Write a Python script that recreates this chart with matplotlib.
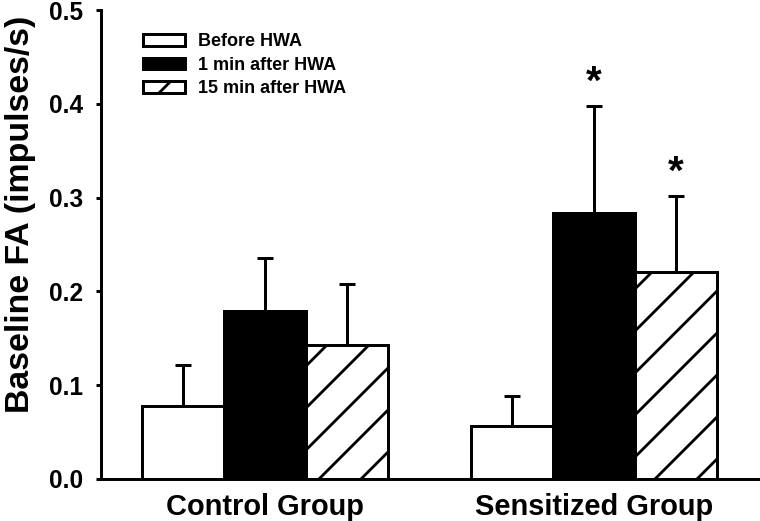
import matplotlib
matplotlib.use("Agg")
import matplotlib.pyplot as plt
import numpy as np

# ---- data ----
groups = ["Control Group", "Sensitized Group"]
series = ["Before HWA", "1 min after HWA", "15 min after HWA"]
before = [0.078, 0.057]
after_1min = [0.179, 0.284]
after_15min = [0.143, 0.221]
err_before = [0.044, 0.031]
err_1min = [0.057, 0.114]
err_15min = [0.065, 0.081]
stars_before = ["", ""]
stars_1min = ["", "*"]
stars_15min = ["", "*"]
yticks = [0.0, 0.1, 0.2, 0.3, 0.4, 0.5]

DPI = 126
plt.rcParams["font.family"] = ["Liberation Sans", "DejaVu Sans"]
plt.rcParams["font.weight"] = "bold"
plt.rcParams["hatch.linewidth"] = 1.6

fig = plt.figure(figsize=(760 / DPI, 521 / DPI), dpi=DPI)
ax = fig.add_axes([101 / 760, 42 / 521, 657 / 760, 469 / 521])

means = [before, after_1min, after_15min]
errs = [err_before, err_1min, err_15min]
stars = [stars_before, stars_1min, stars_15min]
faces = ["white", "black", "white"]
hatches = [None, None, "/"]
group_centers = np.array([1.0, 5.0])
width = 1.0
lw = 1.7

for i, (m, e, s) in enumerate(zip(means, errs, stars)):
    x = group_centers + (i - 1) * width
    ax.errorbar(x, m, yerr=[np.zeros(len(e)), e], fmt="none", ecolor="black",
                elinewidth=lw, capsize=4.3, capthick=lw, zorder=2)
    ax.bar(x, m, width=width, color=faces[i], edgecolor="black", linewidth=lw,
           hatch=hatches[i], label=series[i], zorder=3)
    for xi, mi, ei, si in zip(x, m, e, s):
        if si:
            ax.text(xi, mi + ei + 0.024, si, ha="center", va="center",
                    fontsize=23, fontweight="bold")

ax.set_xlim(-1, 7)
ax.set_ylim(0, 0.5)
ax.set_yticks(yticks)
ax.set_yticklabels([f"{t:.1f}" for t in yticks])
ax.set_xticks(group_centers)
ax.set_xticklabels(groups)

for sp in ["top", "right"]:
    ax.spines[sp].set_visible(False)
for sp in ["left", "bottom"]:
    ax.spines[sp].set_linewidth(lw)

ax.tick_params(axis="y", direction="out", length=2.9, width=lw, pad=7.2,
               labelsize=14)
ax.tick_params(axis="x", length=0, pad=7.8, labelsize=16.6)
for lab in ax.get_xticklabels() + ax.get_yticklabels():
    lab.set_fontweight("bold")

ax.set_ylabel("Baseline FA (impulses/s)", fontsize=19.4, fontweight="bold")
ax.yaxis.set_label_coords(-0.099, 0.565)

leg = ax.legend(loc="upper left", bbox_to_anchor=(143 / 760, 1 - 33.5 / 521),
                bbox_transform=fig.transFigure, frameon=False, fontsize=10.3,
                handlelength=2.33, handleheight=0.62, handletextpad=0.72,
                labelspacing=0.35, borderpad=0, borderaxespad=0)
for t in leg.get_texts():
    t.set_fontweight("bold")

fig.savefig("out.png", dpi=DPI)
